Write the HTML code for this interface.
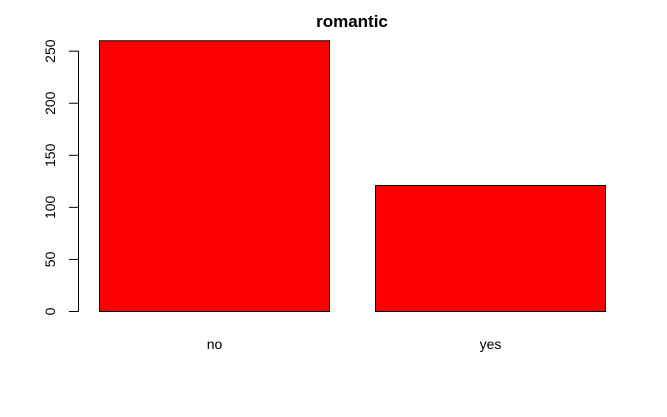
<!DOCTYPE html>
<html><head><meta charset="utf-8"><style>
body{margin:0;background:#fff}
svg text{font-family:"Liberation Sans",Arial,sans-serif}
</style></head><body>
<svg id="chart" width="667" height="412" viewBox="0 0 667 412" xmlns="http://www.w3.org/2000/svg">
<text x="352" y="27" text-anchor="middle" font-size="17" font-weight="bold">romantic</text>
<g id="yaxis"></g>
<g id="bars"></g>
</svg>
<script>
const categories = ["no", "yes"];
const counts = [260, 121];
const yTicks = [0, 50, 100, 150, 200, 250];

const NS = "http://www.w3.org/2000/svg";
const y0 = 311.5, pxPerUnit = 1.0413;
function yScale(v){ return y0 - v * pxPerUnit; }
const barLeft0 = 99.5, barWidth = 230, barStep = 276;
function xLeft(i){ return barLeft0 + i * barStep; }

const yaxis = document.getElementById("yaxis");
const axisLine = document.createElementNS(NS, "line");


axisLine.setAttribute("x1", 78.5); axisLine.setAttribute("x2", 78.5);
axisLine.setAttribute("y1", yScale(yTicks[0])); axisLine.setAttribute("y2", yScale(yTicks[yTicks.length-1]));
axisLine.setAttribute("stroke", "#000");
yaxis.appendChild(axisLine);
yTicks.forEach(t => {
  const y = yScale(t);
  const tk = document.createElementNS(NS, "line");
  
  
  tk.setAttribute("x1", 69); tk.setAttribute("x2", 78.5);
  tk.setAttribute("y1", y); tk.setAttribute("y2", y);
  tk.setAttribute("stroke", "#000");
  yaxis.appendChild(tk);
  const lb = document.createElementNS(NS, "text");
  
  
  lb.setAttribute("transform", `translate(55,${y}) rotate(-90)`);
  lb.setAttribute("text-anchor", "middle");
  lb.setAttribute("font-size", "14");
  lb.textContent = t;
  yaxis.appendChild(lb);
});

const bars = document.getElementById("bars");
categories.forEach((c, i) => {
  const r = document.createElementNS(NS, "rect");
  
  
  r.setAttribute("x", xLeft(i));
  r.setAttribute("y", yScale(counts[i]));
  r.setAttribute("width", barWidth);
  r.setAttribute("height", y0 - yScale(counts[i]));
  r.setAttribute("fill", "#ff0000");
  r.setAttribute("stroke", "#000");
  bars.appendChild(r);
  const lb = document.createElementNS(NS, "text");
  
  
  lb.setAttribute("x", xLeft(i) + barWidth/2);
  lb.setAttribute("y", 349);
  lb.setAttribute("text-anchor", "middle");
  lb.setAttribute("font-size", "14");
  lb.textContent = c;
  bars.appendChild(lb);
});
</script>
</body></html>
